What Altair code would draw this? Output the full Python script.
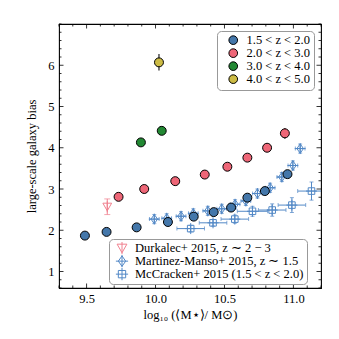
import altair as alt
import pandas as pd

# ---- main samples (this work) ----
blue_x = [9.488, 9.645, 9.863, 10.090, 10.277, 10.422, 10.548, 10.666, 10.793, 10.957]
blue_y = [1.87, 1.96, 2.07, 2.20, 2.33, 2.44, 2.55, 2.79, 2.95, 3.36]
blue_e = [0, 0, 0, 0, 0, 0, 0, 0, 0, 0]
red_x = [9.732, 9.918, 10.143, 10.357, 10.521, 10.666, 10.809, 10.938]
red_y = [2.81, 3.00, 3.19, 3.35, 3.54, 3.76, 4.00, 4.35]
red_e = [0, 0, 0, 0, 0, 0, 0, 0.13]
green_x = [9.894, 10.045]
green_y = [4.13, 4.41]
green_e = [0, 0]
yellow_x = [10.025]
yellow_y = [6.07]
yellow_e = [0.20]
series_names = ["1.5 < z < 2.0", "2.0 < z < 3.0", "3.0 < z < 4.0", "4.0 < z < 5.0"]
series_colors = ["#4477AA", "#EE6677", "#228833", "#CCBB44"]

# ---- literature ----
durk_x = [9.65]
durk_y = [2.57]
durk_e = [0.19]
mm_x = [9.991, 10.081, 10.185, 10.274, 10.379, 10.480, 10.577, 10.655, 10.739, 10.831, 10.916, 10.996, 11.049]
mm_y = [2.27, 2.29, 2.34, 2.41, 2.47, 2.52, 2.63, 2.71, 2.89, 3.03, 3.29, 3.57, 3.98]
mm_xe = [0.035] * 13
mm_ye = [0.11] * 13
mc_x = [10.255, 10.417, 10.575, 10.703, 10.846, 10.989, 11.131]
mc_y = [2.04, 2.18, 2.27, 2.46, 2.49, 2.61, 2.95]
mc_xe = [0.10, 0.10, 0.10, 0.11, 0.10, 0.10, 0.10]
mc_ye = [0.08, 0.08, 0.10, 0.12, 0.15, 0.18, 0.22]
lit_names = ["Durkalec+ 2015, z ∼ 2 − 3",
             "Martinez-Manso+ 2015, z ∼ 1.5",
             "McCracken+ 2015 (1.5 < z < 2.0)"]
lit_colors = ["#F0808F", "#5288C6", "#5288C6"]
lit_shapes = [
    "M-0.8,-0.65L0.8,-0.65L0,0.75Z M0,-1L0,1",
    "M0,-0.85L0.6,0L0,0.85L-0.6,0Z M-1,0L1,0 M0,-1L0,1",
    "M-0.6,-0.6L0.6,-0.6L0.6,0.6L-0.6,0.6Z M-1,0L1,0 M0,-1L0,1",
]

# ---- axes ----
x_ticks = [9.5, 10.0, 10.5, 11.0]
y_ticks = [1, 2, 3, 4, 5, 6]
x_minor = [round(9.3 + 0.1 * i, 2) for i in range(20)]
y_minor = [round(0.6 + 0.2 * i, 2) for i in range(33)]
x_minor = [v for v in x_minor if v not in x_ticks]
y_minor = [v for v in y_minor if v not in y_ticks]

W, H = 262, 264
FONT = "Liberation Serif"
xs = alt.Scale(domain=[9.3, 11.2], nice=False, zero=False)
ys = alt.Scale(domain=[0.6, 7.0], nice=False, zero=False)

rows = []
for name, xx, yy, ee in zip(series_names, [blue_x, red_x, green_x, yellow_x],
                            [blue_y, red_y, green_y, yellow_y],
                            [blue_e, red_e, green_e, yellow_e]):
    for a, b, e in zip(xx, yy, ee):
        rows.append({"x": a, "y": b, "e": e, "s": name})
main = pd.DataFrame(rows)
main["lo"] = main["y"] - main["e"]
main["hi"] = main["y"] + main["e"]
main_err = main[main["e"] > 0]

durk = pd.DataFrame({"x": durk_x, "y": durk_y, "e": durk_e})
durk["lo"] = durk["y"] - durk["e"]
durk["hi"] = durk["y"] + durk["e"]
mm = pd.DataFrame({"x": mm_x, "y": mm_y, "xe": mm_xe, "ye": mm_ye})
mc = pd.DataFrame({"x": mc_x, "y": mc_y, "xe": mc_xe, "ye": mc_ye})
for d in (mm, mc):
    d["xlo"] = d["x"] - d["xe"]
    d["xhi"] = d["x"] + d["xe"]
    d["ylo"] = d["y"] - d["ye"]
    d["yhi"] = d["y"] + d["ye"]

lit = pd.concat([
    pd.DataFrame({"x": durk_x, "y": durk_y, "src": lit_names[0]}),
    pd.DataFrame({"x": mm_x, "y": mm_y, "src": lit_names[1]}),
    pd.DataFrame({"x": mc_x, "y": mc_y, "src": lit_names[2]}),
])

X = lambda f: alt.X(f, type="quantitative", scale=xs,
                    axis=alt.Axis(values=x_ticks, format=".1f", title="log₁₀ (⟨M⋆⟩/ M⊙)",
                                  ticks=False, domain=False, grid=False, labelFont=FONT,
                                  labelFontSize=12.5, labelPadding=4, titleFont=FONT,
                                  titleFontSize=12.5, titleFontWeight="normal",
                                  titlePadding=4, labelColor="black", titleColor="black"))
Y = lambda f: alt.Y(f, type="quantitative", scale=ys,
                    axis=alt.Axis(values=y_ticks, format="d", title="large-scale galaxy bias",
                                  ticks=False, domain=False, grid=False, labelFont=FONT,
                                  labelFontSize=12.5, labelPadding=5, titleFont=FONT,
                                  titleFontSize=12.5, titleFontWeight="normal",
                                  titlePadding=9, labelColor="black", titleColor="black"))

layers = []
# inward ticks on all four sides
for vals, ln in ((x_ticks, 4.5), (x_minor, 2.5)):
    df = pd.DataFrame({"v": vals})
    layers.append(alt.Chart(df).mark_rule(color="black", strokeWidth=0.8).encode(
        x=X("v"), y=alt.value(H), y2=alt.value(H - ln)))
    layers.append(alt.Chart(df).mark_rule(color="black", strokeWidth=0.8).encode(
        x=X("v"), y=alt.value(0), y2=alt.value(ln)))
for vals, ln in ((y_ticks, 4.5), (y_minor, 2.5)):
    df = pd.DataFrame({"v": vals})
    layers.append(alt.Chart(df).mark_rule(color="black", strokeWidth=0.8).encode(
        y=Y("v"), x=alt.value(0), x2=alt.value(ln)))
    layers.append(alt.Chart(df).mark_rule(color="black", strokeWidth=0.8).encode(
        y=Y("v"), x=alt.value(W), x2=alt.value(W - ln)))

# literature error bars
lb = lit_colors[1]
lp = lit_colors[0]
layers.append(alt.Chart(durk).mark_rule(color=lp, strokeWidth=1).encode(x=X("x"), y=Y("lo"), y2="hi"))
layers.append(alt.Chart(durk).mark_tick(color=lp, orient="horizontal", size=6, thickness=1).encode(x=X("x"), y=Y("lo")))
layers.append(alt.Chart(durk).mark_tick(color=lp, orient="horizontal", size=6, thickness=1).encode(x=X("x"), y=Y("hi")))
for d in (mm, mc):
    layers.append(alt.Chart(d).mark_rule(color=lb, strokeWidth=1, clip=True).encode(x=X("x"), y=Y("ylo"), y2="yhi"))
    layers.append(alt.Chart(d).mark_rule(color=lb, strokeWidth=1, clip=True).encode(x=X("xlo"), x2="xhi", y=Y("y")))
    for c in ("ylo", "yhi"):
        layers.append(alt.Chart(d).mark_tick(color=lb, orient="horizontal", size=4, thickness=1, clip=True).encode(x=X("x"), y=Y(c)))
    for c in ("xlo", "xhi"):
        layers.append(alt.Chart(d).mark_tick(color=lb, orient="vertical", size=4, thickness=1, clip=True).encode(x=X(c), y=Y("y")))

legend2 = alt.Legend(title=None, orient="none", legendX=50, legendY=215, fillColor="white",
                     strokeColor="#999999", cornerRadius=4, padding=3, symbolSize=150,
                     symbolStrokeWidth=1, labelFont=FONT, labelFontSize=12.5, labelColor="black",
                     labelOffset=6, symbolOffset=3, rowPadding=0, clipHeight=12.3, labelLimit=400)
layers.append(alt.Chart(lit).mark_point(filled=False, size=120, strokeWidth=1, opacity=1).encode(
    x=X("x"), y=Y("y"),
    shape=alt.Shape("src:N", scale=alt.Scale(domain=lit_names, range=lit_shapes), legend=legend2),
    stroke=alt.Stroke("src:N", scale=alt.Scale(domain=lit_names, range=lit_colors), legend=legend2),
))

# main error bars and points
layers.append(alt.Chart(main_err).mark_rule(color="#333333", strokeWidth=1.3).encode(x=X("x"), y=Y("lo"), y2="hi"))
legend1 = alt.Legend(title=None, orient="none", legendX=158, legendY=7, fillColor="white",
                     strokeColor="#999999", cornerRadius=4, padding=4, symbolType="circle",
                     symbolSize=75, symbolStrokeColor="black", symbolStrokeWidth=1,
                     labelFont=FONT, labelFontSize=12.5, labelColor="black", labelOffset=7,
                     symbolOffset=6, rowPadding=0, clipHeight=10.3, labelLimit=300)
layers.append(alt.Chart(main).mark_point(shape="circle", filled=True, size=80, stroke="black",
                                         strokeWidth=1, opacity=1).encode(
    x=X("x"), y=Y("y"),
    fill=alt.Fill("s:N", scale=alt.Scale(domain=series_names, range=series_colors), legend=legend1),
))

chart = alt.layer(*layers).properties(
    width=W, height=H,
    autosize=alt.AutoSizeParams(type="none"),
    padding={"left": 51, "top": 16, "right": 10, "bottom": 40},
).configure_view(stroke="black", strokeWidth=1.1)

chart.save("out.html", embed_options={"renderer": "svg", "actions": False})
